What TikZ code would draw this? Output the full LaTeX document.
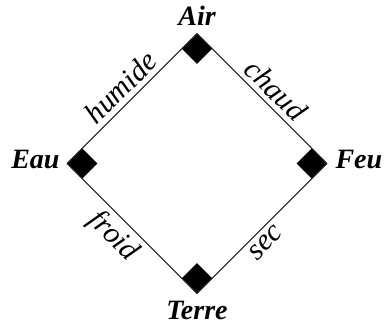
\documentclass[tikz,border=0pt]{standalone}
\usepackage{fontspec}
\setmainfont{Liberation Serif}
\usetikzlibrary{positioning,shapes.geometric}

\begin{document}
\begin{tikzpicture}[
  x=0.5pt, y=0.5pt,
  line width=0.5pt,
  corner/.style={diamond, fill=black, inner sep=0pt, minimum width=15pt, minimum height=15pt},
  element/.style={inner sep=0pt, font=\fontsize{14}{16}\selectfont\bfseries\itshape},
  quality/.style={sloped, inner sep=2.5pt, font=\fontsize{15}{17}\selectfont\itshape}
]
  \useasboundingbox (-197,-159.5) rectangle (187,163.5);
  \coordinate (air) at (0,130);
  \coordinate (eau) at (-130,0);
  \coordinate (feu) at (130,0);
  \coordinate (terre) at (0,-130);
  % sides of the square
  \draw (eau) -- node[quality, above] {humide} (air);
  \draw (air) -- node[quality, above, pos=0.52] {chaud} (feu);
  \draw (eau) -- node[quality, below, pos=0.46] {froid} (terre);
  \draw (terre) -- node[quality, below, pos=0.46] {sec} (feu);
  % corner marks
  \node[corner, anchor=north] (mair) at (air) {};
  \node[corner, anchor=west] (meau) at (eau) {};
  \node[corner, anchor=east] (mfeu) at (feu) {};
  \node[corner, anchor=south] (mterre) at (terre) {};
  % elements
  \node[element, above=4pt of air] (lair) {Air};
  \node[element, left=3.5pt of eau, yshift=2pt] (leau) {Eau};
  \node[element, right=4pt of feu, yshift=2pt] (lfeu) {Feu};
  \node[element, below=3.5pt of terre] (lterre) {Terre};
\end{tikzpicture}
\end{document}
